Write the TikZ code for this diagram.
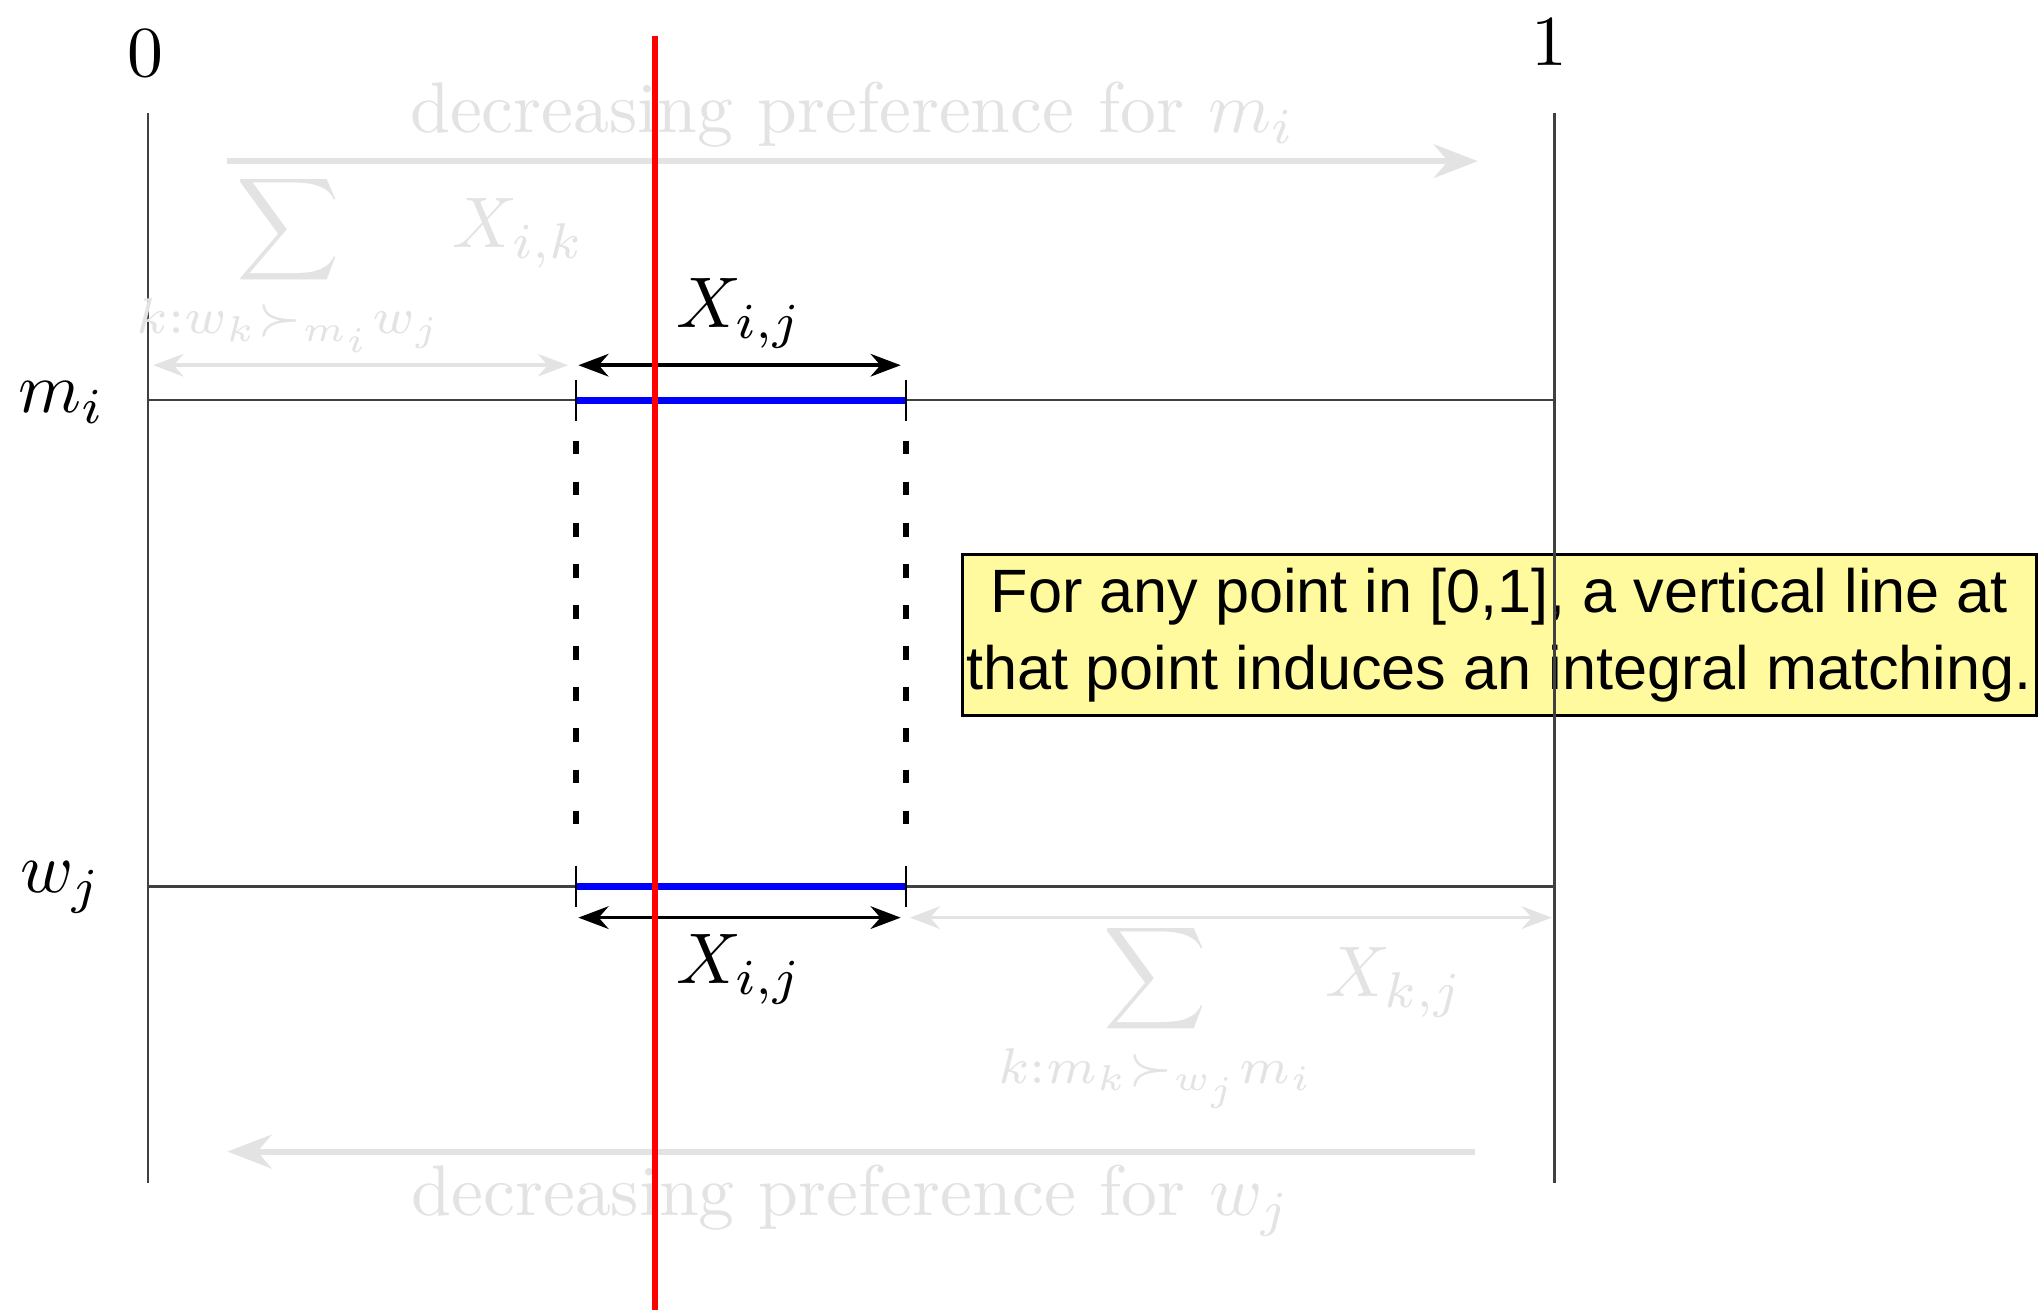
\documentclass[tikz,border=0pt]{standalone}
\usepackage{amsmath,amssymb}
\usepackage{fontspec}
\newfontfamily\notefont{Liberation Sans}
\usetikzlibrary{arrows.meta, positioning, calc, backgrounds}
\newcommand{\magtext}[1]{\scalebox{1.57}{#1}}

\begin{document}
\begin{tikzpicture}[
    axisline/.style={black!75, line width=0.5pt},
    matchseg/.style={blue, line width=1.5pt},
    endtick/.style={black, line width=0.5pt},
    guide/.style={black, line width=1.4pt, dash pattern=on 3pt off 6pt},
    dimarrow/.style={Stealth-Stealth, black, line width=0.8pt},
    faintarrow/.style={Stealth-Stealth, black!11, line width=0.8pt},
    prefarrow/.style={-{Stealth[length=3.4mm, width=2.6mm]}, black!11, line width=1.3pt},
    faint/.style={text=black!11},
    cut/.style={red, line width=1.2pt},
    note/.style={draw=black, line width=0.6pt, fill=yellow!38, font=\notefont\fontsize{13.4}{16.8}\selectfont, align=center, inner xsep=1pt, inner ysep=3pt, minimum width=8.25cm, minimum height=1.23cm}
]
\useasboundingbox (0,0) rectangle (15.68,10.10);

% points on the two unit intervals
\coordinate (top0) at (1.14,9.23);
\coordinate (bot0) at (1.14,1.00);
\coordinate (top1) at (11.96,9.23);
\coordinate (bot1) at (11.96,1.00);
\coordinate (mL) at (1.14,7.02);
\coordinate (mR) at (11.96,7.02);
\coordinate (wL) at (1.14,3.28);
\coordinate (wR) at (11.96,3.28);
\coordinate (ma) at (4.43,7.02);
\coordinate (mb) at (6.97,7.02);
\coordinate (wa) at (4.43,3.28);
\coordinate (wb) at (6.97,3.28);

% the claim
\node[note] (claim) at (11.535,5.215) {For any point in [0,1], a vertical line at\\that point induces an integral matching.};

% frame
\draw[axisline] (top0) -- (bot0);
\draw[axisline] (top1) -- (bot1);
\draw[axisline] (mL) -- (mR);
\draw[axisline] (wL) -- (wR);
\node (zero) at (1.12,9.69) {\magtext{$0$}};
\node (one) at (11.92,9.77) {\magtext{$1$}};
\node (mlab) at (0.48,7.00) {\magtext{$m_i$}};
\node (wlab) at (0.47,3.27) {\magtext{$w_j$}};

% the shared piece X_{i,j}
\draw[matchseg] (ma) -- (mb);
\draw[matchseg] (wa) -- (wb);
\foreach \p in {ma,mb,wa,wb}
    \draw[endtick] ($(\p)+(0,0.16)$) -- ($(\p)-(0,0.16)$);
\draw[guide] ($(ma)-(0,0.31)$) -- ($(wa)+(0,0.31)$);
\draw[guide] ($(mb)-(0,0.31)$) -- ($(wb)+(0,0.31)$);

\coordinate (ua) at (4.45,7.29);
\coordinate (ub) at (6.93,7.29);
\coordinate (la) at (4.45,3.04);
\coordinate (lb) at (6.93,3.04);
\draw[dimarrow] (ua) -- (ub) node[midway, above] (xtop) {\magtext{$X_{i,j}$}};
\draw[dimarrow] (la) -- (lb) node[midway, below] (xbot) {\magtext{$X_{i,j}$}};

% faint sums
\coordinate (fa) at (1.18,7.29);
\coordinate (fb) at (4.37,7.29);
\coordinate (fc) at (7.00,3.04);
\coordinate (fd) at (11.94,3.04);
\draw[faintarrow] (fa) -- (fb) node[midway, above=-0.09cm, faint] (summ) {\magtext{$\displaystyle\sum_{k:w_k\succ_{m_i}w_j} X_{i,k}$}};
\draw[faintarrow] (fc) -- (fd) node[midway, below=-0.1cm, faint] (sumw) {\magtext{$\displaystyle\sum_{k:m_k\succ_{w_j}m_i} X_{k,j}$}};

% preference directions
\coordinate (pa) at (1.75,8.86);
\coordinate (pb) at (11.37,8.86);
\coordinate (pc) at (11.35,1.24);
\coordinate (pd) at (1.75,1.24);
\draw[prefarrow] (pa) -- (pb) node[midway, above=-1pt, faint] (prefm) {\magtext{decreasing preference for $m_i$}};
\draw[prefarrow] (pc) -- (pd) node[midway, below=-1pt, faint] (prefw) {\magtext{decreasing preference for $w_j$}};

% the vertical cut
\coordinate (cutTop) at (5.04,9.82);
\coordinate (cutBot) at (5.04,0.02);
\draw[cut] (cutTop) -- (cutBot);
\end{tikzpicture}
\end{document}
